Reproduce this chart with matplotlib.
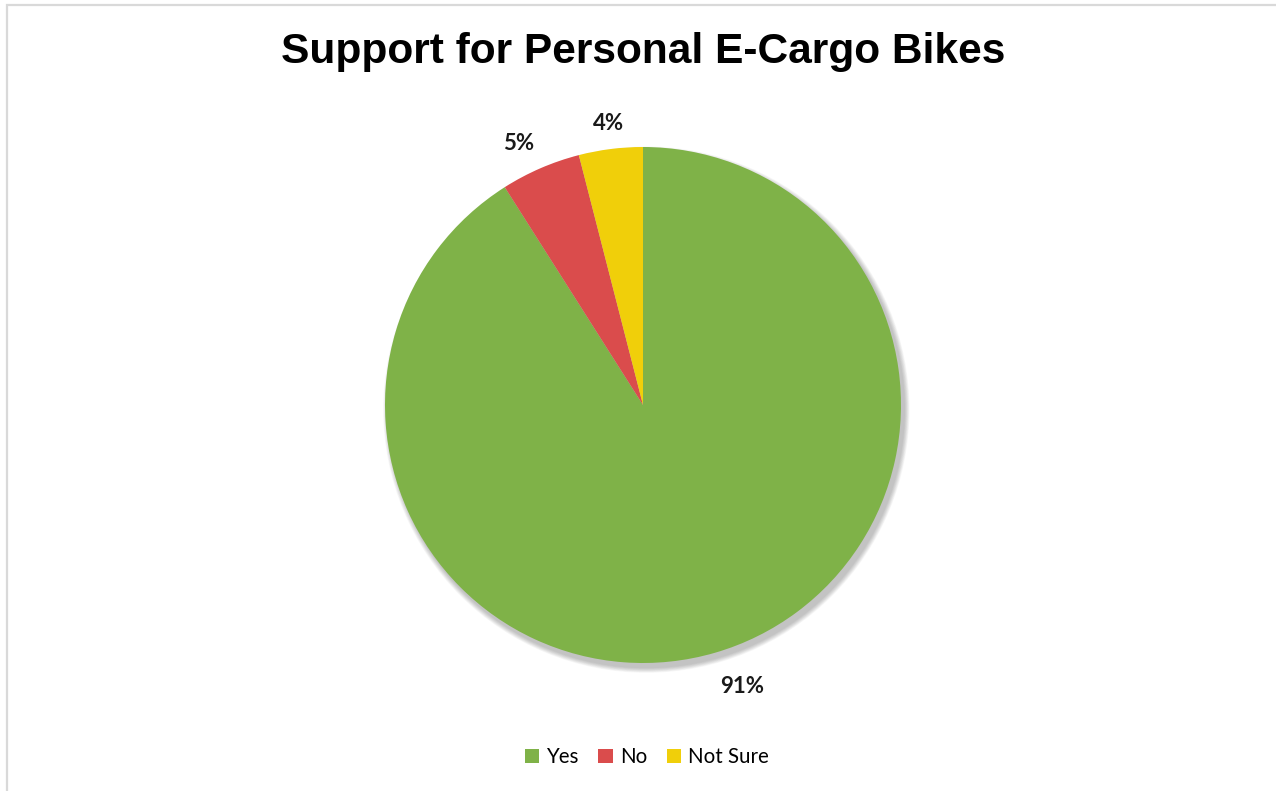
import numpy as np
import matplotlib.pyplot as plt
from matplotlib.patches import Circle, Rectangle

labels = ['Yes', 'No', 'Not Sure']
shares = [91, 5, 4]
colors = ['#7FB248', '#DA4C4C', '#F0CF0A']

W, H = 1276, 791
fig = plt.figure(figsize=(W / 100, H / 100), dpi=100)

# light grey chart frame (only left and top edges fall inside the image)
fig.patches.append(Rectangle((6.5 / W, -0.05), 1.1, 1 - 4.5 / H + 0.05,
                             transform=fig.transFigure, fill=False,
                             edgecolor='#D9D9D9', linewidth=1.6))

fig.text(643 / W, 1 - 52 / H, 'Support for Personal E-Cargo Bikes',
         ha='center', va='center', fontsize=30.6, fontweight='bold',
         family='Liberation Sans')

cx, cy, r = 643, 405, 258
ax = fig.add_axes([(cx - 1.25 * r) / W, (H - cy - 1.25 * r) / H,
                   2.5 * r / W, 2.5 * r / H])
ax.axis('off')

# soft drop shadow behind the pie, offset to the lower right
for i in range(8):
    ax.add_patch(Circle((0.013, -0.018), 1.0 + 0.0025 * (8 - i),
                        color='#000000', alpha=0.033, lw=0, zorder=0))

wedges, texts, autotexts = ax.pie(
    shares, colors=colors, startangle=90, counterclock=False,
    radius=1.0, autopct='%d%%', pctdistance=1.1,
    wedgeprops=dict(linewidth=0, zorder=1),
    textprops=dict(fontsize=16, fontweight='bold', color='#1a1a1a',
                   family='Lato'))

# outside-end labels: anchor the text box just beyond the rim
for w, t in zip(wedges, autotexts):
    a = np.deg2rad((w.theta1 + w.theta2) / 2)
    c, s = np.cos(a), np.sin(a)
    t.set_position((1.065 * c, (1.06 if s > 0 else 1.095) * s))
    t.set_ha('left' if c > 0.2 else 'right' if c < -0.2 else 'center')
    t.set_va('top' if s < 0 else 'bottom')

ax.set_xlim(-1.25, 1.25)
ax.set_ylim(-1.25, 1.25)
ax.set_aspect('equal')

fig.legend(wedges, labels, loc='center', bbox_to_anchor=(647 / W, 1 - 757 / H),
           ncol=3, frameon=False, handlelength=0.7, handleheight=0.7,
           handletextpad=0.35, columnspacing=0.95,
           prop=dict(family='Lato', size=14.8))

fig.savefig('out.png', dpi=100)
